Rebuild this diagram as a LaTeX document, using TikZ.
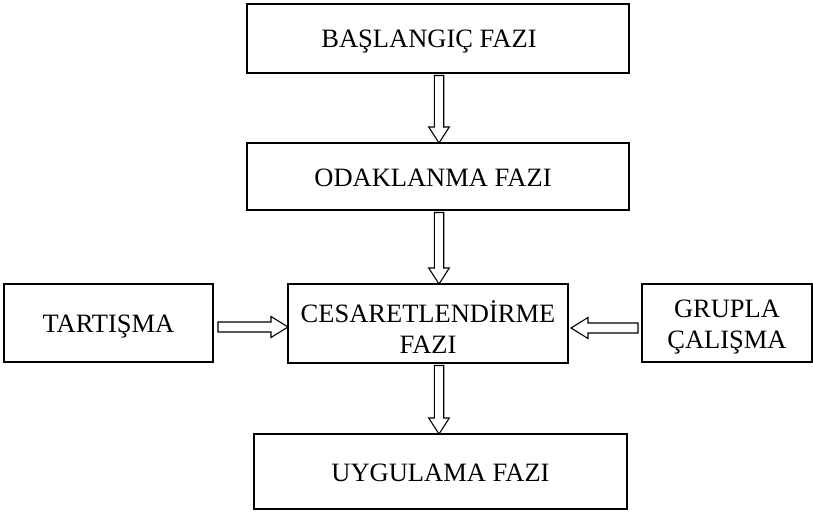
\documentclass[tikz,border=0pt]{standalone}
\usepackage{fontspec}
\setmainfont{Liberation Serif}
\usetikzlibrary{calc}
\tikzset{
  box/.style={draw, line width=1.4pt, inner sep=0pt, outer sep=0pt,
    font=\fontsize{26.5}{30.5}\selectfont, text height=19pt, text depth=0pt},
  blk/.style={draw, line width=1.1pt, fill=white, line join=miter},
}
\newcommand\vblock[2]{%
  \draw[blk] let \p1=(#1), \p2=(#2) in
   (\x1-4.7pt,\y1) -- (\x1-4.7pt,\y2+16pt) -- (\x1-10.3pt,\y2+16pt) -- (\x1,\y2)
   -- (\x1+10.3pt,\y2+16pt) -- (\x1+4.7pt,\y2+16pt) -- (\x1+4.7pt,\y1) -- cycle;}
\newcommand\hblock[3]{%
  \draw[blk] let \p1=(#1), \p2=(#2) in
   (\x1,\y1-5pt) -- ({\x2#3},\y1-5pt) -- ({\x2#3},\y1-10.5pt) -- (\x2,\y1)
   -- ({\x2#3},\y1+10.5pt) -- ({\x2#3},\y1+5pt) -- (\x1,\y1+5pt) -- cycle;}
\begin{document}
\begin{tikzpicture}[x=1pt, y=-1pt]
\useasboundingbox (0,0) rectangle (813,511);
\node[box, minimum width=382pt, minimum height=69pt] (b1) at (438,38.5) {BAŞLANGIÇ FAZI\kern18pt};
\node[box, minimum width=382pt, minimum height=67pt] (b2) at (438,176.5) {ODAKLANMA FAZI\kern10pt};
\node[box, minimum width=280pt, minimum height=79pt, align=center, text height=59pt] (c) at (428,323.5) {CESARETLENDİRME\\FAZI};
\node[box, minimum width=373pt, minimum height=75pt] (b4) at (440.5,471.5) {UYGULAMA FAZI};
\node[box, minimum width=209pt, minimum height=78pt] (t) at (108.5,323) {TARTIŞMA};
\node[box, minimum width=170pt, minimum height=78pt, align=center, text height=50pt] (g) at (727,323) {GRUPLA\\ÇALIŞMA};
% connector start points
\coordinate (s1) at ($(b1.south)+(1pt,-2.5pt)$);
\coordinate (s2) at ($(b2.south)+(1pt,-2.5pt)$);
\coordinate (s3) at ($(c.south)+(11pt,-2.5pt)$);
\coordinate (st) at ($(t.east)+(5pt,-4pt)$);
\coordinate (sg) at ($(g.west)+(-4pt,-5pt)$);
\coordinate (ec) at ($(c.east)+(3pt,0)$);
\vblock{s1}{b2.north}
\vblock{s2}{c.north}
\vblock{s3}{b4.north}
\hblock{st}{c.west}{-17pt}
\hblock{sg}{ec}{+17pt}
\end{tikzpicture}
\end{document}
